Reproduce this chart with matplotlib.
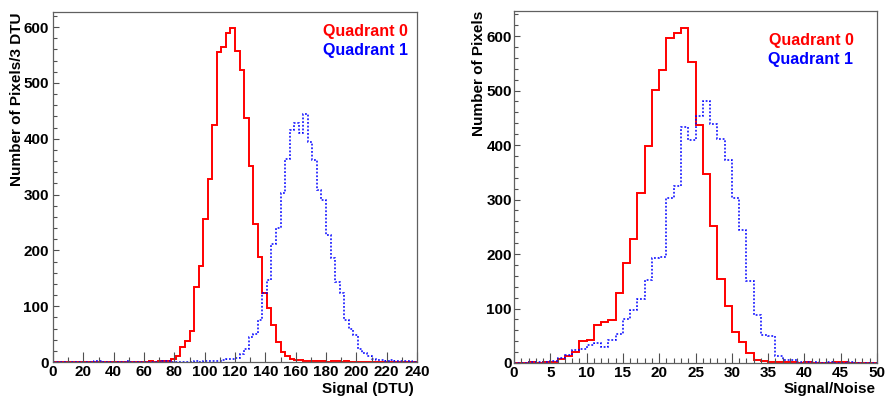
import numpy as np
import matplotlib
matplotlib.use("Agg")
import matplotlib.pyplot as plt
from matplotlib.ticker import MultipleLocator

plt.rcParams['font.family'] = ['Liberation Sans', 'DejaVu Sans']
plt.rcParams['font.weight'] = 'bold'

# ---------------- data ----------------
# Left: Signal (DTU), 80 bins of 3 DTU from 0 to 240
signal_edges = np.arange(0, 243, 3)
signal_q0 = [0, 0, 0, 0, 0, 0, 0, 0, 0, 0,
             0, 0, 0, 0, 0, 0, 0, 0, 0, 0,
             0, 1, 0, 1, 2, 2, 5, 10, 26, 37,
             56, 135, 172, 256, 327, 424, 556, 565, 590, 599,
             557, 523, 437, 352, 248, 188, 124, 97, 67, 35,
             18, 11, 6, 4, 3, 2, 1, 1, 2, 1,
             0, 1, 1, 0, 1, 0, 0, 0, 0, 0,
             0, 0, 0, 0, 0, 0, 0, 0, 0, 0]
signal_q1 = [0, 0, 0, 0, 0, 0, 0, 0, 0, 1,
             1, 0, 0, 0, 0, 0, 1, 0, 0, 0,
             0, 0, 0, 0, 1, 1, 0, 0, 0, 0,
             0, 1, 0, 1, 1, 1, 2, 3, 5, 5,
             8, 14, 24, 44, 51, 76, 123, 147, 211, 240,
             302, 363, 416, 428, 410, 444, 395, 362, 309, 290,
             228, 186, 143, 123, 76, 59, 48, 23, 16, 10,
             5, 4, 4, 2, 3, 1, 2, 1, 1, 0]

# Right: Signal/Noise, 50 bins of 1 from 0 to 50
sn_edges = np.arange(0, 51, 1)
sn_q0 = [0, 0, 1, 0, 1, 2, 7, 13, 20, 41,
         42, 70, 76, 78, 129, 183, 227, 312, 398, 501,
         538, 597, 605, 615, 553, 437, 346, 252, 154, 105,
         57, 38, 19, 6, 3, 2, 2, 1, 1, 0,
         1, 0, 0, 0, 1, 1, 0, 0, 0, 0]
sn_q1 = [0, 0, 1, 2, 1, 3, 10, 15, 24, 26,
         33, 36, 30, 43, 54, 80, 98, 117, 152, 192,
         195, 302, 324, 434, 409, 454, 481, 438, 411, 372,
         303, 244, 150, 88, 51, 49, 13, 6, 6, 2,
         1, 1, 0, 1, 0, 0, 1, 0, 0, 0]

legend_labels = ["Quadrant 0", "Quadrant 1"]
colors = ["#ff0000", "#0000ff"]

# ---------------- figure ----------------
W, H = 888, 399
fig = plt.figure(figsize=(W / 100, H / 100), dpi=100)

def frac_rect(x0, x1, ytop, ybot):
    return [x0 / W, 1 - ybot / H, (x1 - x0) / W, (ybot - ytop) / H]

ax1 = fig.add_axes(frac_rect(53, 417, 12, 362))
ax2 = fig.add_axes(frac_rect(514, 877, 11, 363))

frame_col = "#606060"
tick_col = "#505050"
TICK_FS = 11
LABEL_FS = 11

def style(ax, xmaj, xmin, ymaj, ymin, ylabpad):
    for s in ax.spines.values():
        s.set_color(frame_col)
        s.set_linewidth(0.9)
    ax.xaxis.set_major_locator(MultipleLocator(xmaj))
    ax.xaxis.set_minor_locator(MultipleLocator(xmin))
    ax.yaxis.set_major_locator(MultipleLocator(ymaj))
    ax.yaxis.set_minor_locator(MultipleLocator(ymin))
    ax.tick_params(axis='x', which='major', direction='in', length=7.2, width=0.8,
                   color=tick_col, labelsize=TICK_FS, pad=2.5, top=False)
    ax.tick_params(axis='x', which='minor', direction='in', length=3.6, width=0.8,
                   color=tick_col, top=False)
    ax.tick_params(axis='y', which='major', direction='in', length=4.6, width=0.8,
                   color=tick_col, labelsize=TICK_FS, pad=ylabpad, right=False)
    ax.tick_params(axis='y', which='minor', direction='in', length=3.0, width=0.8,
                   color=tick_col, right=False)
    for lab in ax.get_xticklabels() + ax.get_yticklabels():
        lab.set_fontweight('bold')

# Left panel
ax1.stairs(signal_q0, signal_edges, color=colors[0], lw=1.4, baseline=0)
ax1.stairs(signal_q1, signal_edges, color=colors[1], lw=1.1, ls=(0, (1.2, 1.2)), baseline=0)
ax1.set_xlim(0, 240)
ax1.set_ylim(0, 627)
style(ax1, 20, 10, 100, 20, 3.0)
ax1.set_xlabel("Signal (DTU)", fontsize=LABEL_FS, fontweight='bold', loc='right')
ax1.xaxis.set_label_coords(0.992, -0.058)
ax1.set_ylabel("Number of Pixels/3 DTU", fontsize=LABEL_FS, fontweight='bold', loc='top')
ax1.yaxis.set_label_coords(-0.080, 1.0)
ax1.text(0.976, 0.944, legend_labels[0], color=colors[0], transform=ax1.transAxes,
         ha='right', va='center', fontsize=11.5, fontweight='bold')
ax1.text(0.976, 0.890, legend_labels[1], color=colors[1], transform=ax1.transAxes,
         ha='right', va='center', fontsize=11.5, fontweight='bold')

# Right panel
ax2.stairs(sn_q0, sn_edges, color=colors[0], lw=1.4, baseline=0)
ax2.stairs(sn_q1, sn_edges, color=colors[1], lw=1.1, ls=(0, (1.2, 1.2)), baseline=0)
ax2.set_xlim(0, 50)
ax2.set_ylim(0, 646)
style(ax2, 5, 1, 100, 20, 1.5)
ax2.set_xlabel("Signal/Noise", fontsize=LABEL_FS, fontweight='bold', loc='right')
ax2.xaxis.set_label_coords(0.997, -0.055)
ax2.set_ylabel("Number of Pixels", fontsize=LABEL_FS, fontweight='bold', loc='top')
ax2.yaxis.set_label_coords(-0.078, 1.0)
ax2.text(0.935, 0.915, legend_labels[0], color=colors[0], transform=ax2.transAxes,
         ha='right', va='center', fontsize=11.5, fontweight='bold')
ax2.text(0.935, 0.862, legend_labels[1], color=colors[1], transform=ax2.transAxes,
         ha='right', va='center', fontsize=11.5, fontweight='bold')

fig.savefig("out.png", dpi=100)
